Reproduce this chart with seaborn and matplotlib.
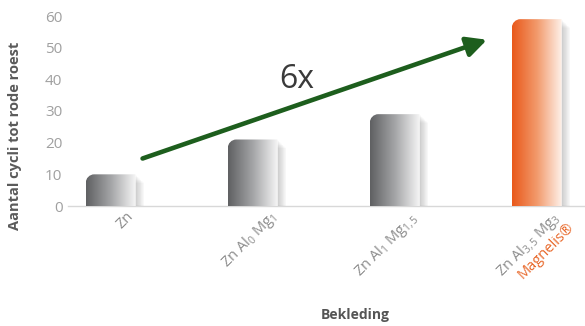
import numpy as np
import pandas as pd
import matplotlib
matplotlib.use("Agg")
import matplotlib.pyplot as plt
import matplotlib.transforms as mtransforms
import matplotlib.patheffects as pe
from matplotlib.path import Path
from matplotlib.patches import PathPatch
from matplotlib.colors import LinearSegmentedColormap
import seaborn as sns

categories = ["Zn", "ZnAl0Mg1", "ZnAl1Mg1,5", "ZnAl3,5Mg3"]
tick_labels = [r"Zn", r"Zn Al$_{0}$ Mg$_{1}$", r"Zn Al$_{1}$ Mg$_{1,5}$", r"Zn Al$_{3,5}$ Mg$_{3}$"]
values = [10, 21, 29, 59]
y_ticks = [0, 10, 20, 30, 40, 50, 60]
brand_label = "Magnelis®"
ratio_label = "6x"
arrow_start = (0.225, 15)
arrow_end = (2.65, 52.5)
ratio_pos = (1.31, 40)

sns.set_theme(style="white")
plt.rcParams["font.family"] = ["Open Sans", "DejaVu Sans"]
plt.rcParams["mathtext.fontset"] = "custom"
plt.rcParams["mathtext.rm"] = "Open Sans"
plt.rcParams["mathtext.it"] = "Open Sans:italic"
plt.rcParams["mathtext.bf"] = "Open Sans:bold"

fig = plt.figure(figsize=(5.85, 3.26), dpi=100)
ax = fig.add_axes([68/585, 1-206/326, 517/585, 190/326])

df = pd.DataFrame({"cat": categories, "val": values})
sns.barplot(data=df, x="cat", y="val", ax=ax, width=0.35, color="#888888", saturation=1, linewidth=0)

ax.set_xlim(-0.30, 3.34)
ax.set_ylim(0, 60)

gray_cmap = LinearSegmentedColormap.from_list("g", ["#5f6062", "#a4a5a7", "#f6f6f6"])
orange_cmap = LinearSegmentedColormap.from_list("o", ["#e9581a", "#f29a6c", "#fef1ea"])
grad = np.linspace(0, 1, 256).reshape(1, -1)
rx = 0.06
ry = 2.7
k = 0.55
shadow = [pe.SimplePatchShadow(offset=(d, -d), shadow_rgbFace="#808080", alpha=0.07) for d in (1, 2, 3, 4, 5, 6)]
for i, p in enumerate(list(ax.patches)):
    x0, y0 = p.get_x(), p.get_y()
    w, h = p.get_width(), p.get_height()
    p.set_alpha(0)
    verts = [(x0, y0), (x0, y0 + h - ry),
             (x0, y0 + h - ry + k * ry), (x0 + rx - k * rx, y0 + h), (x0 + rx, y0 + h),
             (x0 + w, y0 + h), (x0 + w, y0), (x0, y0)]
    codes = [Path.MOVETO, Path.LINETO, Path.CURVE4, Path.CURVE4, Path.CURVE4,
             Path.LINETO, Path.LINETO, Path.CLOSEPOLY]
    shape = PathPatch(Path(verts, codes), facecolor="white", edgecolor="none", zorder=2)
    shape.set_path_effects(shadow + [pe.Normal()])
    ax.add_patch(shape)
    cmap = orange_cmap if i == len(values) - 1 else gray_cmap
    im = ax.imshow(grad, extent=[x0, x0 + w, y0, y0 + h], aspect="auto", cmap=cmap, zorder=3)
    im.set_clip_path(shape)

ax.set_xlim(-0.30, 3.34)
ax.set_ylim(0, 60)
ax.set_yticks(y_ticks)
ax.set_yticklabels([str(t) for t in y_ticks], color="#a0a0a0", fontsize=11)
ax.tick_params(axis="y", length=0, pad=4)
ax.tick_params(axis="x", length=0, pad=2)

ax.set_xticks(range(len(categories)))
ax.set_xticklabels(tick_labels, rotation=45, ha="right", va="top", rotation_mode="anchor",
                   color="#8c8c8c", fontsize=10.5)
offset = mtransforms.ScaledTranslation(15/100, 0, fig.dpi_scale_trans)
for lab in ax.get_xticklabels():
    lab.set_transform(lab.get_transform() + offset)

brand_off = mtransforms.ScaledTranslation(30/100, -14/100, fig.dpi_scale_trans)
ax.text(len(categories) - 1, 0, brand_label, rotation=45, ha="right", va="top",
        rotation_mode="anchor", color="#e8682a", fontsize=10.5,
        transform=ax.get_xaxis_transform() + brand_off)

for s in ["left", "right", "top"]:
    ax.spines[s].set_visible(False)
ax.spines["bottom"].set_color("#d8d8d8")
ax.spines["bottom"].set_linewidth(1)
ax.spines["bottom"].set_zorder(1)

ax.set_ylabel("Aantal cycli tot rode roest", fontsize=10.5, fontweight="bold", color="#5a5a5a")
ax.yaxis.set_label_coords(-0.089, 0.37)
ax.set_xlabel("Bekleding", fontsize=10, fontweight="bold", color="#555555")
ax.xaxis.set_label_coords(0.555, -0.535)

ax.annotate("", xy=arrow_end, xytext=arrow_start,
            arrowprops=dict(arrowstyle="-|>", color="#1d5e1d", lw=3.3, mutation_scale=30,
                            shrinkA=0, shrinkB=0), zorder=5)
ax.text(ratio_pos[0], ratio_pos[1], ratio_label, fontsize=23, color="#3a3a3a",
        ha="center", va="center")

fig.savefig("out.png", dpi=100)
